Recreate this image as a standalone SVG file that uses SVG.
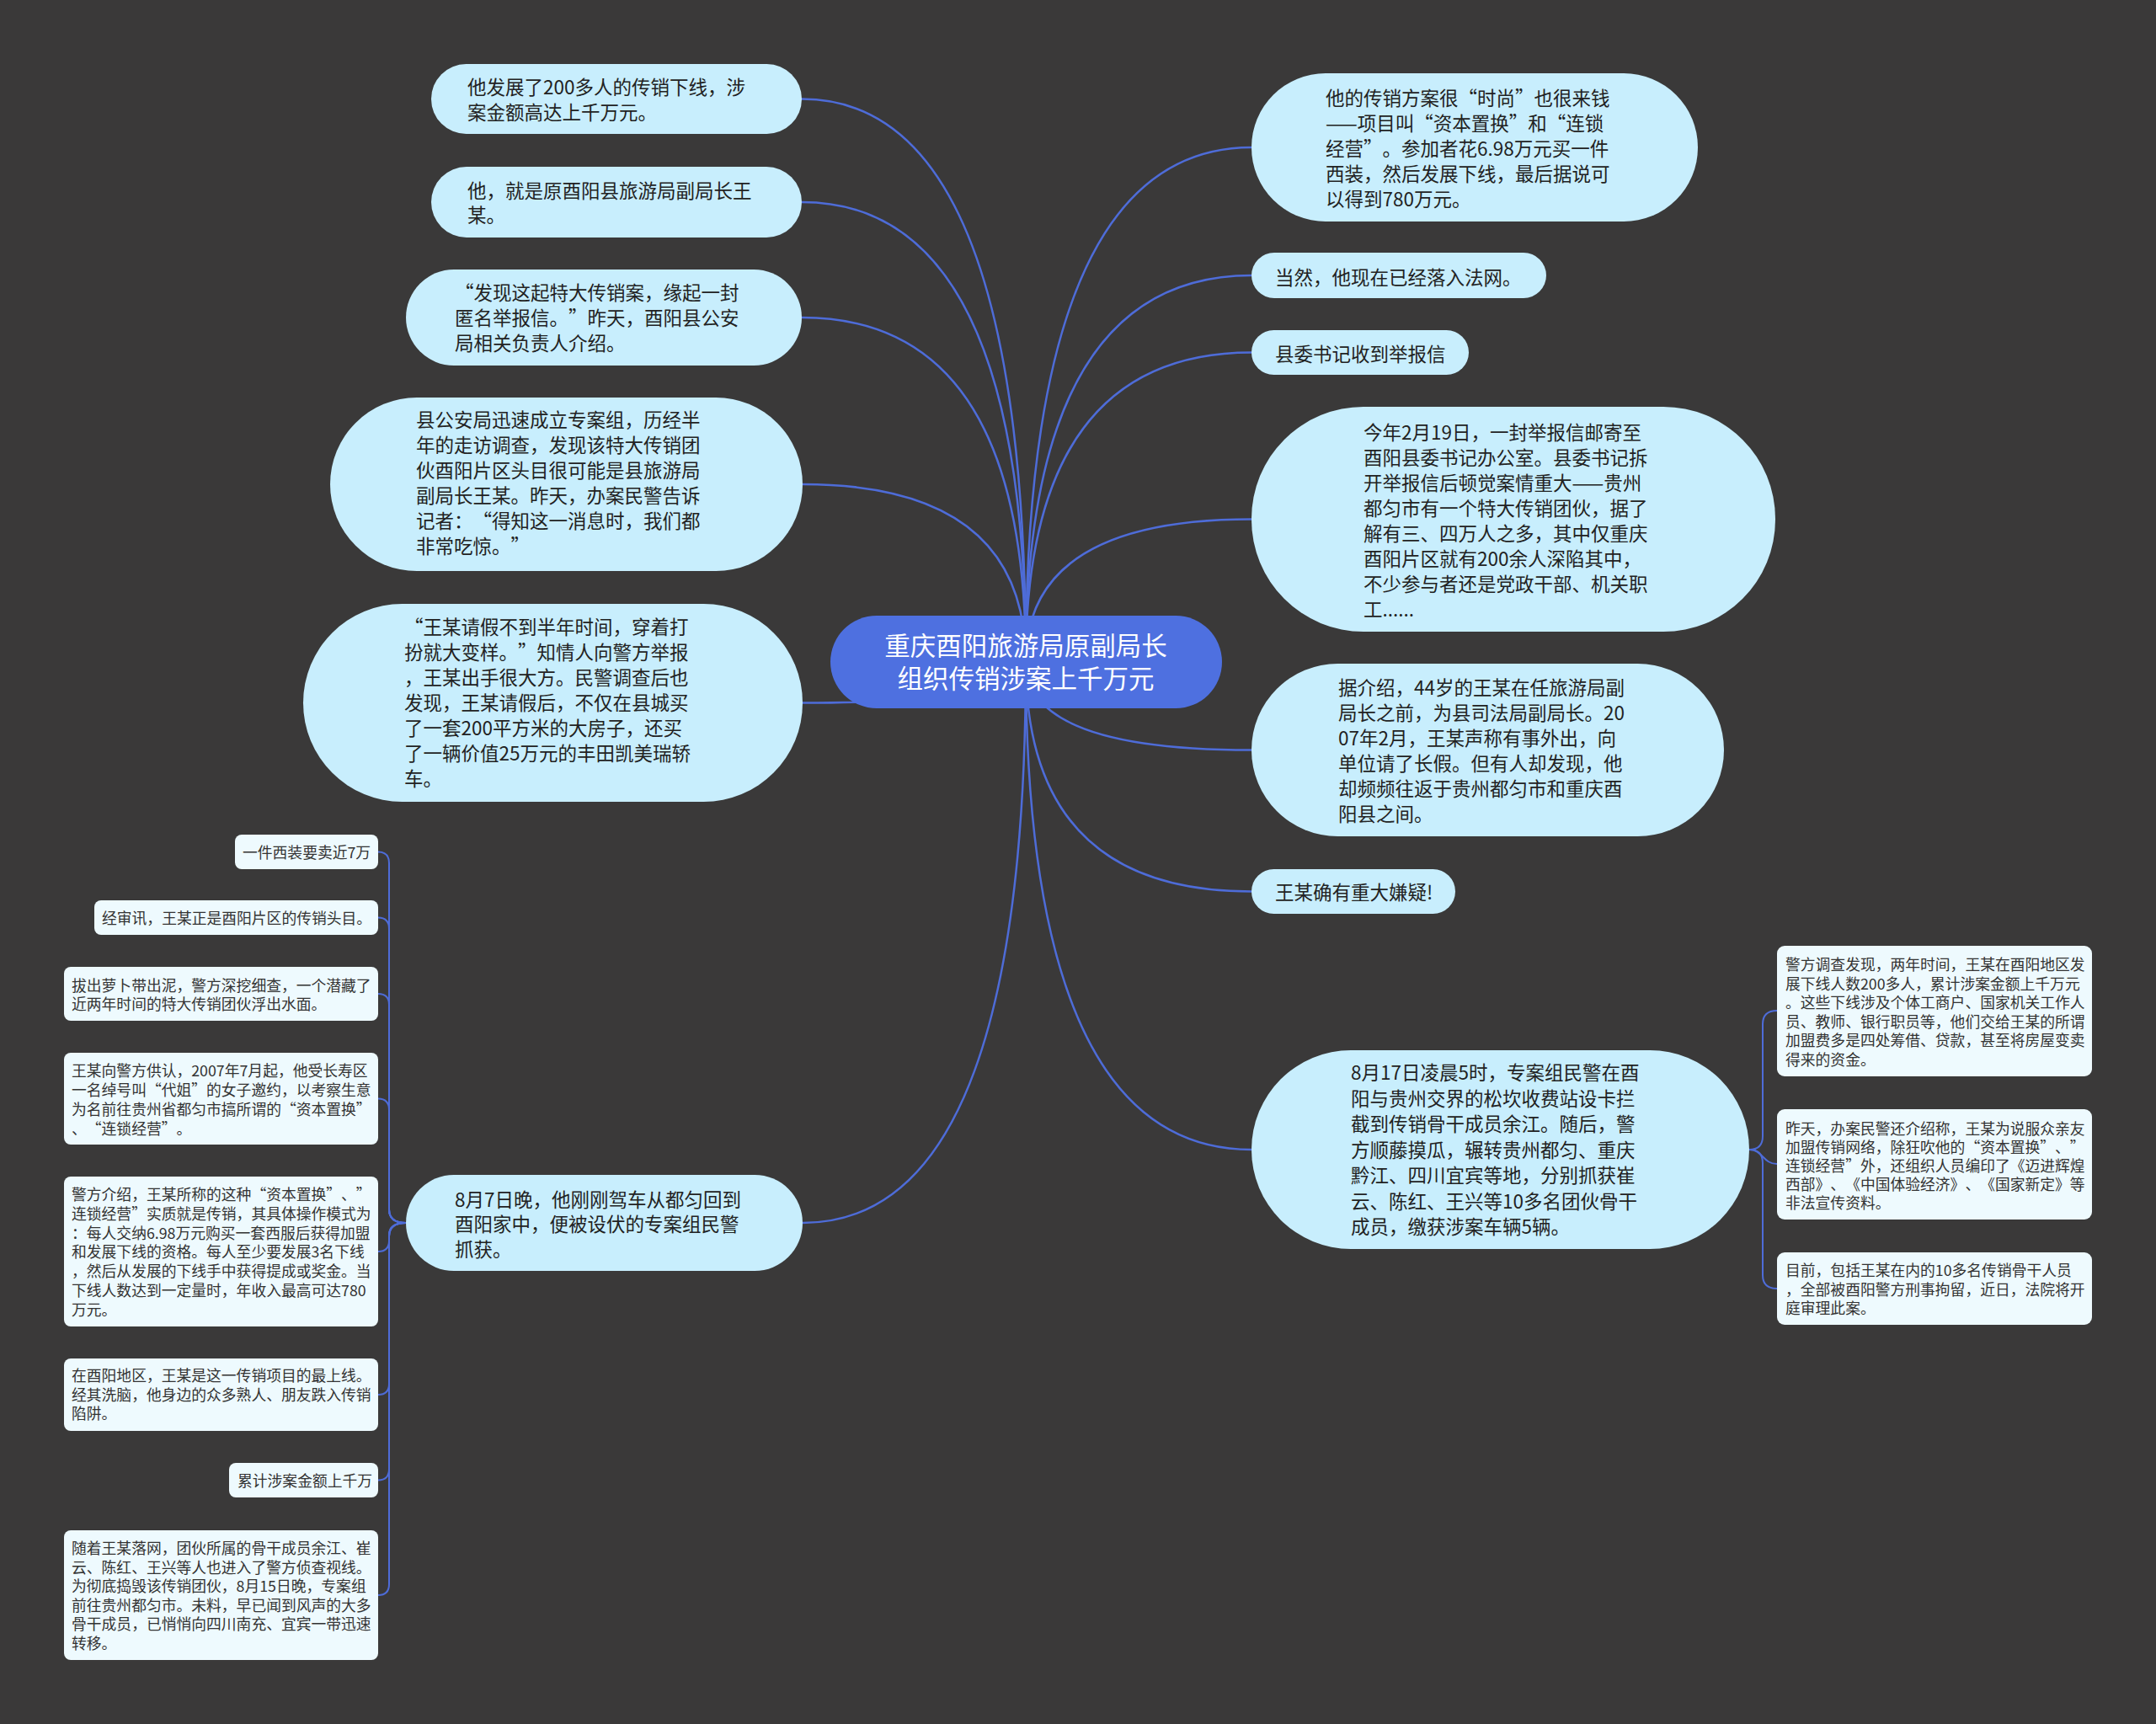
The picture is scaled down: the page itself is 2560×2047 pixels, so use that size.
<svg xmlns="http://www.w3.org/2000/svg" width="2560" height="2047" viewBox="0 0 2560 2047">
<defs>
<style>
.n1{fill:#C8EEFD}
.n2{fill:#EEFAFE}
.root{fill:#4E70E0}
.c{fill:none;stroke:#4E6CD8;stroke-width:2.5}
.cs{fill:none;stroke:#4E6CD8;stroke-width:2}
text{font-family:"Noto Sans CJK SC","Microsoft YaHei",sans-serif;fill:#222;text-spacing-trim:space-all}
.t{font-size:22.5px}
.ts{font-size:17.8px;fill:#333}
.tr{font-size:30.5px;fill:#fff;text-anchor:middle}
</style>
</defs>
<rect x="0" y="0" width="2560" height="2047" fill="#3A3939"/>

<g id="connectors">
<path class="c" d="M1218 786 Q1218 117.5 952 117.5"/>
<path class="c" d="M1218 786 Q1218 240 952 240"/>
<path class="c" d="M1218 786 Q1218 377 952 377"/>
<path class="c" d="M1218 786 Q1218 575 953 575"/>
<path class="c" d="M1218 786 Q1218 834.5 953 834.5"/>
<path class="c" d="M1218 786 Q1218 1452 953 1452"/>
<path class="c" d="M1218 786 Q1218 175 1486 175"/>
<path class="c" d="M1218 786 Q1218 327 1486 327"/>
<path class="c" d="M1218 786 Q1218 418.5 1486 418.5"/>
<path class="c" d="M1218 786 Q1218 616.5 1486 616.5"/>
<path class="c" d="M1218 786 Q1218 890.5 1486 890.5"/>
<path class="c" d="M1218 786 Q1218 1058.5 1486 1058.5"/>
<path class="c" d="M1218 786 Q1218 1365 1486 1365"/>
<path class="cs" d="M2077 1365 Q2093 1365 2093 1349 L2093 1216 Q2093 1200 2110 1200"/>
<path class="cs" d="M2077 1365 C2093 1365 2093 1382 2110 1382"/>
<path class="cs" d="M2077 1365 Q2093 1365 2093 1381 L2093 1514 Q2093 1530 2110 1530"/>
<path class="cs" d="M482 1452 Q462 1452 462 1436 L462 1025 Q462 1011.5 449 1011.5"/>
<path class="cs" d="M482 1452 Q462 1452 462 1436 L462 1103 Q462 1089.5 449 1089.5"/>
<path class="cs" d="M482 1452 Q462 1452 462 1436 L462 1193 Q462 1180 449 1180"/>
<path class="cs" d="M482 1452 Q462 1452 462 1436 L462 1318 Q462 1304.5 449 1304.5"/>
<path class="cs" d="M482 1452 Q462 1452 462 1466 L462 1473 Q462 1486 449 1486"/>
<path class="cs" d="M482 1452 Q462 1452 462 1468 L462 1643 Q462 1656 449 1656"/>
<path class="cs" d="M482 1452 Q462 1452 462 1468 L462 1744 Q462 1757.5 449 1757.5"/>
<path class="cs" d="M482 1452 Q462 1452 462 1468 L462 1881 Q462 1894 449 1894"/>
</g>

<g id="root">
<rect class="root" x="986" y="731" width="465" height="110" rx="55"/>
<text class="tr"><tspan x="1218" y="778">重庆酉阳旅游局原副局长</tspan><tspan x="1218" y="817">组织传销涉案上千万元</tspan></text>
</g>

<g id="L1">
<rect class="n1" x="512" y="76" width="440" height="83" rx="41.5"/>
<text class="t"><tspan x="555" y="112">他发展了200多人的传销下线，涉</tspan><tspan x="555" y="142">案金额高达上千万元。</tspan></text>
</g>
<g id="L2">
<rect class="n1" x="512" y="198" width="440" height="84" rx="42"/>
<text class="t"><tspan x="555" y="235">他，就是原酉阳县旅游局副局长王</tspan><tspan x="555" y="264">某。</tspan></text>
</g>
<g id="L3">
<rect class="n1" x="482" y="320" width="470" height="114" rx="57"/>
<text class="t"><tspan x="540" y="356">“发现这起特大传销案，缘起一封</tspan><tspan x="540" y="386">匿名举报信。”昨天，酉阳县公安</tspan><tspan x="540" y="416">局相关负责人介绍。</tspan></text>
</g>
<g id="L4">
<rect class="n1" x="392" y="472" width="561" height="206" rx="103"/>
<text class="t"><tspan x="494" y="507">县公安局迅速成立专案组，历经半</tspan><tspan x="494" y="537">年的走访调查，发现该特大传销团</tspan><tspan x="494" y="567">伙酉阳片区头目很可能是县旅游局</tspan><tspan x="494" y="597">副局长王某。昨天，办案民警告诉</tspan><tspan x="494" y="627">记者：“得知这一消息时，我们都</tspan><tspan x="494" y="657">非常吃惊。”</tspan></text>
</g>
<g id="L5">
<rect class="n1" x="360" y="717" width="593" height="235" rx="117.5"/>
<text class="t"><tspan x="480" y="753">“王某请假不到半年时间，穿着打</tspan><tspan x="480" y="783">扮就大变样。”知情人向警方举报</tspan><tspan x="480" y="813">，王某出手很大方。民警调查后也</tspan><tspan x="480" y="843">发现，王某请假后，不仅在县城买</tspan><tspan x="480" y="873">了一套200平方米的大房子，还买</tspan><tspan x="480" y="903">了一辆价值25万元的丰田凯美瑞轿</tspan><tspan x="480" y="933">车。</tspan></text>
</g>
<g id="L6">
<rect class="n1" x="482" y="1395" width="471" height="114" rx="57"/>
<text class="t"><tspan x="540" y="1433">8月7日晚，他刚刚驾车从都匀回到</tspan><tspan x="540" y="1462">酉阳家中，便被设伏的专案组民警</tspan><tspan x="540" y="1492">抓获。</tspan></text>
</g>

<g id="R1">
<rect class="n1" x="1486" y="87" width="530" height="176" rx="88"/>
<text class="t"><tspan x="1574" y="125">他的传销方案很“时尚”也很来钱</tspan><tspan x="1574" y="155">——项目叫“资本置换”和“连锁</tspan><tspan x="1574" y="185">经营”。参加者花6.98万元买一件</tspan><tspan x="1574" y="215">西装，然后发展下线，最后据说可</tspan><tspan x="1574" y="245">以得到780万元。</tspan></text>
</g>
<g id="R2">
<rect class="n1" x="1486" y="300" width="350" height="54" rx="27"/>
<text class="t" x="1514" y="338">当然，他现在已经落入法网。</text>
</g>
<g id="R3">
<rect class="n1" x="1486" y="392" width="258" height="53" rx="26.5"/>
<text class="t" x="1514" y="429">县委书记收到举报信</text>
</g>
<g id="R4">
<rect class="n1" x="1486" y="483" width="622" height="267" rx="133"/>
<text class="t"><tspan x="1619" y="522">今年2月19日，一封举报信邮寄至</tspan><tspan x="1619" y="552">酉阳县委书记办公室。县委书记拆</tspan><tspan x="1619" y="582">开举报信后顿觉案情重大——贵州</tspan><tspan x="1619" y="612">都匀市有一个特大传销团伙，据了</tspan><tspan x="1619" y="642">解有三、四万人之多，其中仅重庆</tspan><tspan x="1619" y="672">酉阳片区就有200余人深陷其中，</tspan><tspan x="1619" y="702">不少参与者还是党政干部、机关职</tspan><tspan x="1619" y="732">工......</tspan></text>
</g>
<g id="R5">
<rect class="n1" x="1486" y="788" width="561" height="205" rx="102.5"/>
<text class="t"><tspan x="1589" y="825">据介绍，44岁的王某在任旅游局副</tspan><tspan x="1589" y="855">局长之前，为县司法局副局长。20</tspan><tspan x="1589" y="885">07年2月，王某声称有事外出，向</tspan><tspan x="1589" y="915">单位请了长假。但有人却发现，他</tspan><tspan x="1589" y="945">却频频往返于贵州都匀市和重庆酉</tspan><tspan x="1589" y="975">阳县之间。</tspan></text>
</g>
<g id="R6">
<rect class="n1" x="1486" y="1032" width="242" height="53" rx="26.5"/>
<text class="t" x="1514" y="1068">王某确有重大嫌疑!</text>
</g>
<g id="R7">
<rect class="n1" x="1486" y="1247" width="591" height="236" rx="118"/>
<text class="t"><tspan x="1604" y="1282">8月17日凌晨5时，专案组民警在酉</tspan><tspan x="1604" y="1312.5">阳与贵州交界的松坎收费站设卡拦</tspan><tspan x="1604" y="1343">截到传销骨干成员余江。随后，警</tspan><tspan x="1604" y="1373.5">方顺藤摸瓜，辗转贵州都匀、重庆</tspan><tspan x="1604" y="1404">黔江、四川宜宾等地，分别抓获崔</tspan><tspan x="1604" y="1434.5">云、陈红、王兴等10多名团伙骨干</tspan><tspan x="1604" y="1465">成员，缴获涉案车辆5辆。</tspan></text>
</g>

<g id="C1">
<rect class="n2" x="2110" y="1123" width="374" height="155" rx="9"/>
<text class="ts"><tspan x="2120" y="1152">警方调查发现，两年时间，王某在酉阳地区发</tspan><tspan x="2120" y="1174.6">展下线人数200多人，累计涉案金额上千万元</tspan><tspan x="2120" y="1197.2">。这些下线涉及个体工商户、国家机关工作人</tspan><tspan x="2120" y="1219.8">员、教师、银行职员等，他们交给王某的所谓</tspan><tspan x="2120" y="1242.4">加盟费多是四处筹借、贷款，甚至将房屋变卖</tspan><tspan x="2120" y="1265">得来的资金。</tspan></text>
</g>
<g id="C2">
<rect class="n2" x="2110" y="1317" width="374" height="131" rx="9"/>
<text class="ts"><tspan x="2120" y="1347">昨天，办案民警还介绍称，王某为说服众亲友</tspan><tspan x="2120" y="1369">加盟传销网络，除狂吹他的“资本置换”、”</tspan><tspan x="2120" y="1391">连锁经营”外，还组织人员编印了《迈进辉煌</tspan><tspan x="2120" y="1413">西部》、《中国体验经济》、《国家新定》等</tspan><tspan x="2120" y="1435">非法宣传资料。</tspan></text>
</g>
<g id="C3">
<rect class="n2" x="2110" y="1487" width="374" height="86" rx="9"/>
<text class="ts"><tspan x="2120" y="1515">目前，包括王某在内的10多名传销骨干人员</tspan><tspan x="2120" y="1538">，全部被酉阳警方刑事拘留，近日，法院将开</tspan><tspan x="2120" y="1560">庭审理此案。</tspan></text>
</g>

<g id="D1">
<rect class="n2" x="279" y="991" width="170" height="41" rx="8"/>
<text class="ts" x="288" y="1019">一件西装要卖近7万</text>
</g>
<g id="D2">
<rect class="n2" x="112" y="1069" width="337" height="41" rx="8"/>
<text class="ts" x="121" y="1097">经审讯，王某正是酉阳片区的传销头目。</text>
</g>
<g id="D3">
<rect class="n2" x="76" y="1148" width="373" height="64" rx="8"/>
<text class="ts"><tspan x="85" y="1177">拔出萝卜带出泥，警方深挖细查，一个潜藏了</tspan><tspan x="85" y="1199">近两年时间的特大传销团伙浮出水面。</tspan></text>
</g>
<g id="D4">
<rect class="n2" x="76" y="1250" width="373" height="109" rx="8"/>
<text class="ts"><tspan x="85" y="1278">王某向警方供认，2007年7月起，他受长寿区</tspan><tspan x="85" y="1301">一名绰号叫“代姐”的女子邀约，以考察生意</tspan><tspan x="85" y="1324">为名前往贵州省都匀市搞所谓的“资本置换”</tspan><tspan x="85" y="1347">、“连锁经营”。</tspan></text>
</g>
<g id="D5">
<rect class="n2" x="76" y="1397" width="373" height="178" rx="8"/>
<text class="ts"><tspan x="85" y="1425">警方介绍，王某所称的这种“资本置换”、”</tspan><tspan x="85" y="1447.8">连锁经营”实质就是传销，其具体操作模式为</tspan><tspan x="85" y="1470.6">：每人交纳6.98万元购买一套西服后获得加盟</tspan><tspan x="85" y="1493.4">和发展下线的资格。每人至少要发展3名下线</tspan><tspan x="85" y="1516.2">，然后从发展的下线手中获得提成或奖金。当</tspan><tspan x="85" y="1539">下线人数达到一定量时，年收入最高可达780</tspan><tspan x="85" y="1561.8">万元。</tspan></text>
</g>
<g id="D6">
<rect class="n2" x="76" y="1613" width="373" height="86" rx="8"/>
<text class="ts"><tspan x="85" y="1640">在酉阳地区，王某是这一传销项目的最上线。</tspan><tspan x="85" y="1663">经其洗脑，他身边的众多熟人、朋友跌入传销</tspan><tspan x="85" y="1685">陷阱。</tspan></text>
</g>
<g id="D7">
<rect class="n2" x="272" y="1737" width="177" height="41" rx="8"/>
<text class="ts" x="282" y="1765">累计涉案金额上千万</text>
</g>
<g id="D8">
<rect class="n2" x="76" y="1817" width="373" height="154" rx="8"/>
<text class="ts"><tspan x="85" y="1845">随着王某落网，团伙所属的骨干成员余江、崔</tspan><tspan x="85" y="1867.6">云、陈红、王兴等人也进入了警方侦查视线。</tspan><tspan x="85" y="1890.2">为彻底捣毁该传销团伙，8月15日晚，专案组</tspan><tspan x="85" y="1912.8">前往贵州都匀市。未料，早已闻到风声的大多</tspan><tspan x="85" y="1935.4">骨干成员，已悄悄向四川南充、宜宾一带迅速</tspan><tspan x="85" y="1958">转移。</tspan></text>
</g>
</svg>
